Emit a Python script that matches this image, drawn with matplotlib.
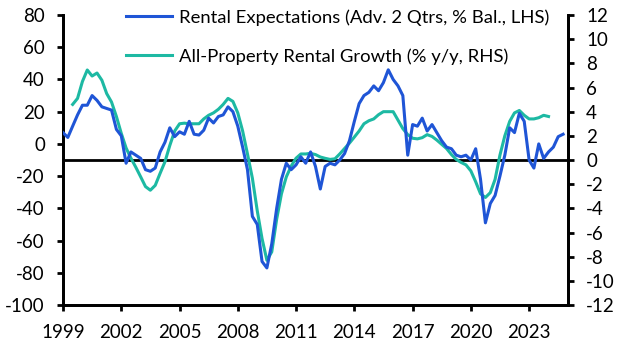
import matplotlib
matplotlib.use("Agg")
import matplotlib.pyplot as plt
import pandas as pd

plt.rcParams["font.family"] = ["Lato", "DejaVu Sans"]
plt.rcParams["axes.unicode_minus"] = False

# Rental expectations, advanced 2 quarters (% balance, LHS), quarterly from 1999 Q1
expectations = [
    7, 4, 11, 18, 24, 24, 30, 27, 23, 22, 21, 9, 5, -12, -5, -7,
    -9, -16, -17, -15, -5, 1, 10, 4.5, 7.5, 6, 14, 6, 5.5, 8.5, 16, 13,
    17, 18, 23, 20, 11, -2, -16, -45, -50, -73, -77, -62, -40, -22, -12, -16,
    -13, -8, -12, -5, -14, -28, -14, -12, -13, -10, -6, 2, 14, 25, 30, 32,
    36, 33, 38, 46, 40, 36, 30, -7, 12, 11, 16, 8, 12, 7, 2, -2,
    -3, -7, -8, -7, -10, -3, -22, -49, -37, -32, -20, -7, 10, 7, 19, 14,
    -10, -15, 0, -9, -5, -2, 4.5, 6,
]
# All-property rental growth (% y/y, RHS), quarterly from 1999 Q3
rental_growth = [
    4.6, 5.1, 6.5, 7.45, 6.95, 7.2, 6.6, 5.5, 4.8, 3.6, 2.2, 1.0, 0.15, -0.6,
    -1.4, -2.2, -2.5, -2.1, -1.1, -0.15, 1.2, 2.4, 3.0, 3.05, 3.0, 3.0, 3.0, 3.4,
    3.7, 3.9, 4.2, 4.6, 5.1, 4.85, 3.9, 2.4, 0.5, -1.5, -4.2, -6.5, -8.3, -7.6,
    -4.9, -2.8, -1.4, -0.5, 0.15, 0.5, 0.5, 0.55, 0.45, 0.25, 0.14, 0.05, 0.1, 0.5,
    0.95, 1.4, 1.9, 2.4, 3.0, 3.25, 3.4, 3.75, 4.0, 4.0, 4.0, 3.3, 2.6, 2.1,
    1.8, 1.75, 1.85, 2.1, 1.95, 1.65, 1.3, 0.95, 0.45, 0.05, -0.2, -0.4, -0.9, -1.8,
    -2.8, -3.1, -2.7, -1.6, 0.4, 2.0, 3.2, 3.9, 4.1, 3.7, 3.4, 3.4, 3.5, 3.7, 3.6,
]
exp_dates = pd.date_range("1999-01-01", periods=len(expectations), freq="QS")
growth_dates = pd.date_range("1999-07-01", periods=len(rental_growth), freq="QS")

year_ticks = [1999, 2002, 2005, 2008, 2011, 2014, 2017, 2020, 2023]
left_ticks = list(range(-100, 81, 20))
right_ticks = list(range(-12, 13, 2))

blue = "#1F55D6"
teal = "#1DB9A3"

fig = plt.figure(figsize=(6.29, 3.54), dpi=100)
ax = fig.add_axes([0.1002, 0.1384, 0.8028, 0.8192])
ax2 = ax.twinx()

ax.plot(exp_dates, expectations, color=blue, lw=2.2, label="Rental Expectations (Adv. 2 Qtrs, % Bal., LHS)",
        zorder=3)
ax2.plot(growth_dates, rental_growth, color=teal, lw=2.2, label="All-Property Rental Growth (% y/y, RHS)",
         zorder=2)
ax2.axhline(0, color="black", lw=2.0, zorder=1)

ax.set_ylim(-100, 80)
ax2.set_ylim(-12, 12)
ax.set_xlim(pd.Timestamp("1999-01-01"), pd.Timestamp("2025-01-01"))
ax.set_yticks(left_ticks)
ax2.set_yticks(right_ticks)
ax.set_xticks([pd.Timestamp(f"{y}-01-01") for y in year_ticks])
ax.set_xticklabels([str(y) for y in year_ticks])

for a in (ax, ax2):
    a.spines["top"].set_visible(False)
    for side in ("left", "right", "bottom"):
        a.spines[side].set_linewidth(2.0)
    a.tick_params(width=2.0, length=4, labelsize=13.5, direction="out", colors="black")
ax.tick_params(axis="y", pad=9)
ax2.tick_params(axis="y", pad=9)
ax.tick_params(axis="x", pad=10)

ax.set_zorder(ax2.get_zorder() + 1)
ax.patch.set_visible(False)

h1, l1 = ax.get_legend_handles_labels()
h2, l2 = ax2.get_legend_handles_labels()
ax.legend(h1 + h2, l1 + l2, loc="upper left", bbox_to_anchor=(0.11, 1.045), frameon=False,
          fontsize=13.3, handlelength=2.5, handletextpad=0.35, labelspacing=1.2, borderaxespad=0)

fig.savefig("out.png", dpi=100)
